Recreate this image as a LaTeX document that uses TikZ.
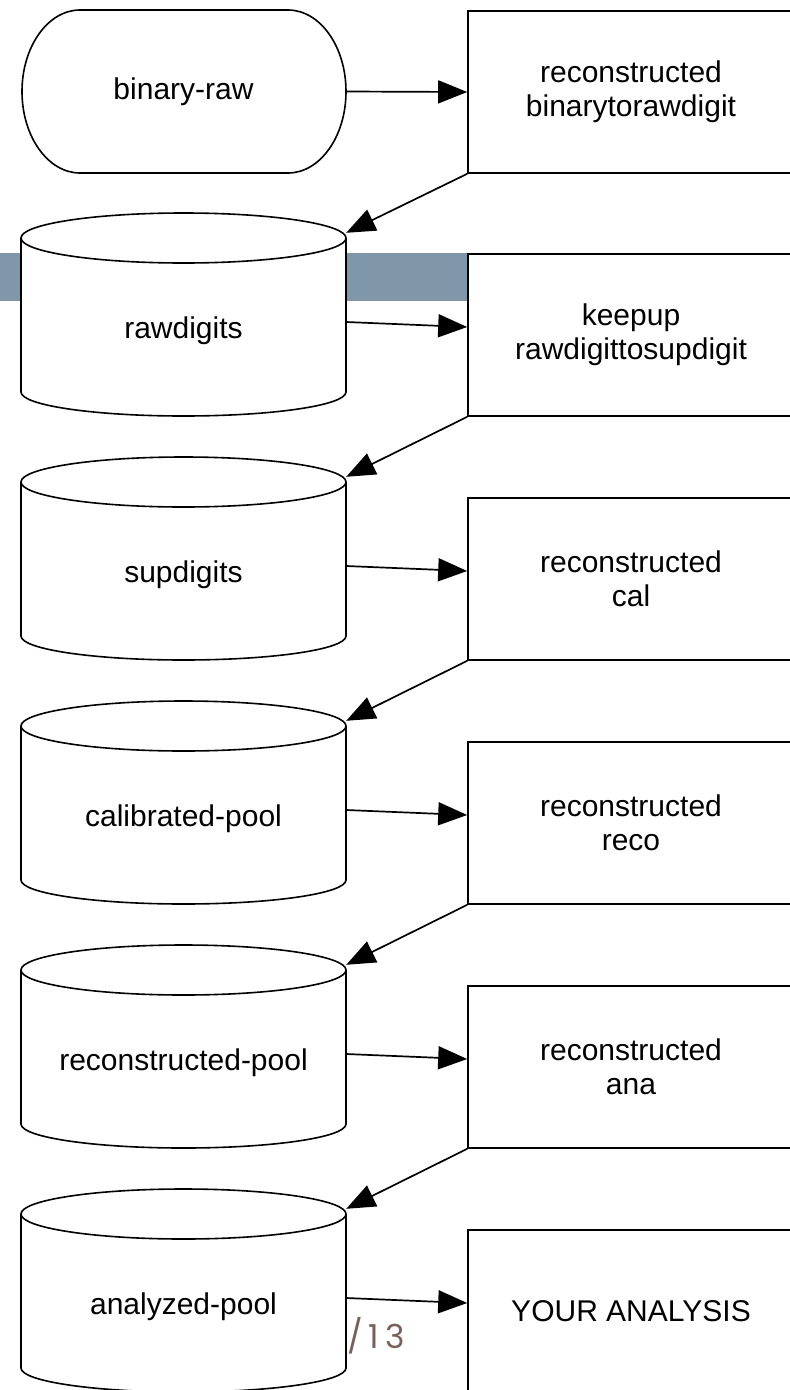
\documentclass[tikz,border=0pt]{standalone}
\usepackage{fontspec}
\setmainfont{Liberation Sans}
\newfontfamily\slidefont{Poppins}[LetterSpace=18]
\usetikzlibrary{arrows.meta}
\definecolor{barblue}{RGB}{128,151,170}
\definecolor{pagebrown}{RGB}{122,98,88}
\newcommand{\drawcyl}[3]{% #1 name, #2 top y, #3 label
  \path[shapeline] (21,#2+25) -- (21,#2+179)
     arc[start angle=180, end angle=360, x radius=162.5pt, y radius=24pt]
     -- (346,#2+25)
     arc[start angle=0, end angle=180, x radius=162.5pt, y radius=25pt] -- cycle;
  \draw[line width=1.6pt] (346,#2+25)
     arc[start angle=0, end angle=-180, x radius=162.5pt, y radius=25pt];
  \node[inner sep=0pt, minimum width=325pt, minimum height=203pt] (#1) at (183.5,#2+101.5) {};
  \node[lbl] (#1-text) at (183.5,#2+118) {#3};
}
\begin{document}
\begin{tikzpicture}[x=1pt,y=-1pt,
  lbl/.style={font=\fontsize{30}{34}\selectfont, align=center, inner sep=0pt},
  procbox/.style={draw, line width=1.6pt, fill=white, minimum width=326pt, minimum height=162pt, lbl},
  shapeline/.style={draw, line width=1.6pt, fill=white},
  flow/.style={line width=1.7pt, -{Triangle[length=29pt,width=23pt]}},
]
\useasboundingbox (0,0) rectangle (790,1390);
\fill[white] (0,0) rectangle (790,1390);
\fill[barblue] (0,253) rectangle (468,301);

% start terminator
\path[shapeline] (80,10) -- (288,10)
   arc[start angle=90, end angle=-90, x radius=58pt, y radius=81.5pt]
   -- (80,173)
   arc[start angle=270, end angle=90, x radius=58pt, y radius=81.5pt] -- cycle;
\node[lbl, minimum width=325pt, minimum height=163pt] (src) at (183.5,91.5) {binary-raw};

% data stores
\drawcyl{c1}{213}{rawdigits}
\drawcyl{c2}{457}{supdigits}
\drawcyl{c3}{701}{calibrated-pool}
\drawcyl{c4}{945}{reconstructed-pool}
\drawcyl{c5}{1189}{analyzed-pool}

% process boxes
\node[procbox] (p1) at (631,92) {reconstructed\\binarytorawdigit};
\node[procbox] (p2) at (631,335) {keepup\\rawdigittosupdigit};
\node[procbox] (p3) at (631,579) {reconstructed\\cal};
\node[procbox] (p4) at (631,823) {reconstructed\\reco};
\node[procbox] (p5) at (631,1067) {reconstructed\\ana};
\node[procbox] (p6) at (631,1311) {YOUR ANALYSIS};

% connectors
\draw[flow] (src.east) -- (p1.west);
\draw[flow] (p1.south west) -- ([yshift=-20pt]c1.north east);
\draw[flow] ([yshift=-7.5pt]c1.east) -- ([yshift=8pt]p2.west);
\draw[flow] (p2.south west) -- ([yshift=-20pt]c2.north east);
\draw[flow] ([yshift=-7.5pt]c2.east) -- ([yshift=8pt]p3.west);
\draw[flow] (p3.south west) -- ([yshift=-20pt]c3.north east);
\draw[flow] ([yshift=-7.5pt]c3.east) -- ([yshift=8pt]p4.west);
\draw[flow] (p4.south west) -- ([yshift=-20pt]c4.north east);
\draw[flow] ([yshift=-7.5pt]c4.east) -- ([yshift=8pt]p5.west);
\draw[flow] (p5.south west) -- ([yshift=-20pt]c5.north east);
\draw[flow] ([yshift=-7.5pt]c5.east) -- ([yshift=8pt]p6.west);

% page number
\node[anchor=base west, inner sep=0pt, text=pagebrown, font=\slidefont\fontsize{33}{33}\selectfont] (pagenum) at (347,1348) {/13};
\end{tikzpicture}
\end{document}
